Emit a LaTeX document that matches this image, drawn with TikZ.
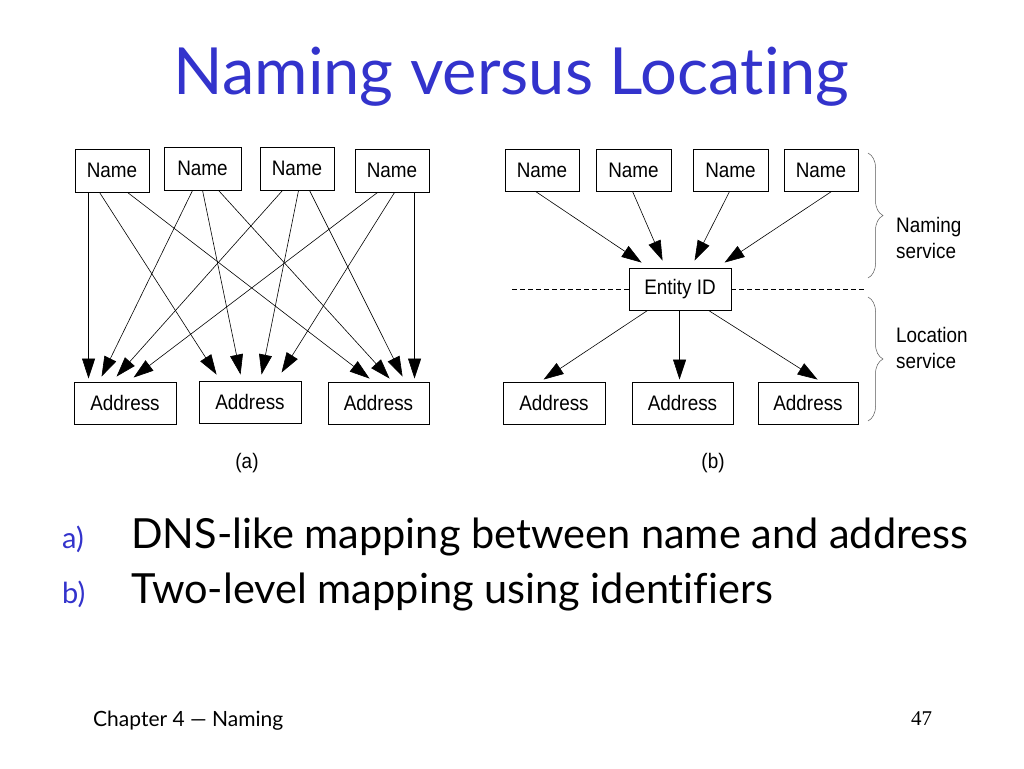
\documentclass[tikz,border=0pt]{standalone}
\usepackage{fontspec}
\usetikzlibrary{arrows.meta,decorations.pathreplacing}
\newfontfamily\comicf[RawFeature=-liga]{Lato}
\newfontfamily\arialf[FakeStretch=0.9]{Liberation Sans}
\newfontfamily\seriff{Liberation Serif}
\definecolor{titleblue}{RGB}{51,51,204}
\begin{document}
\begin{tikzpicture}[x=1pt,y=-1pt,
  box/.style={draw, line width=0.9pt, inner sep=0pt, font=\arialf\fontsize{21}{24}\selectfont},
  namebox/.style={box, minimum width=74pt, minimum height=43pt},
  addrbox/.style={box, minimum width=102pt, minimum height=42pt},
  arr/.style={-{Triangle[length=20pt,width=13pt]}, line width=0.6pt},
  lbl/.style={font=\arialf\fontsize{21}{25.6}\selectfont, inner sep=0pt},
  bullet/.style={anchor=base west, inner sep=0pt, font=\comicf\fontsize{41.5}{46}\selectfont},
  bmark/.style={anchor=base west, inner sep=0pt, text=titleblue, font=\comicf\fontsize{29}{32}\selectfont},
  bracestyle/.style={decorate, decoration={brace, amplitude=15pt}, line width=0.5pt, black!65}
]
\fill[white] (0,0) rectangle (1024,768);
\useasboundingbox (0,0) rectangle (1024,768);

% title
\node[anchor=base, inner sep=0pt, text=titleblue, font=\comicf\fontsize{65}{70}\selectfont] (title) at (511.5,94) {Naming versus Locating};

% ---------- (a) ----------
\node[namebox] (aN1) at (112,170.5) {Name};
\node[namebox, minimum width=77pt] (aN2) at (202.5,168.5) {Name};
\node[namebox] (aN3) at (297,168.5) {Name};
\node[namebox] (aN4) at (392,170.5) {Name};
\node[addrbox] (aA1) at (125,403) {Address};
\node[addrbox] (aA2) at (250,402) {Address};
\node[addrbox, minimum width=101pt] (aA3) at (378.5,403) {Address};

\draw[arr] ([xshift=14pt]aN1.south west) -- ([xshift=15pt,yshift=3pt]aA1.north west);
\draw[arr] ([xshift=25pt]aN1.south west) -- ([xshift=18pt,yshift=6pt]aA2.north west);
\draw[arr] ([xshift=53pt]aN1.south west) -- ([xshift=42pt,yshift=3pt]aA3.north west);

\draw[arr] ([xshift=29pt]aN2.south west) -- ([xshift=28pt,yshift=5pt]aA1.north west);
\draw[arr] ([xshift=39pt]aN2.south west) -- ([xshift=42pt,yshift=6pt]aA2.north west);
\draw[arr] ([xshift=55pt]aN2.south west) -- ([xshift=62pt,yshift=3pt]aA3.north west);

\draw[arr] ([xshift=23pt]aN3.south west) -- ([xshift=43pt,yshift=5pt]aA1.north west);
\draw[arr] ([xshift=39pt]aN3.south west) -- ([xshift=63pt,yshift=6pt]aA2.north west);
\draw[arr] ([xshift=50pt]aN3.south west) -- ([xshift=75pt,yshift=5pt]aA3.north west);

\draw[arr] ([xshift=23pt]aN4.south west) -- ([xshift=60pt,yshift=4pt]aA1.north west);
\draw[arr] ([xshift=40pt]aN4.south west) -- ([xshift=83pt,yshift=8pt]aA2.north west);
\draw[arr] ([xshift=60pt]aN4.south west) -- ([xshift=87pt,yshift=3pt]aA3.north west);

\node[lbl] (capa) at (247,463) {(a)};

% ---------- (b) ----------
\node[namebox, minimum height=42pt] (bN1) at (542,170) {Name};
\node[namebox, minimum height=42pt, minimum width=75pt] (bN2) at (633.5,170) {Name};
\node[namebox, minimum height=42pt, minimum width=75pt] (bN3) at (730.5,170) {Name};
\node[namebox, minimum height=42pt] (bN4) at (821,170) {Name};
\node[addrbox] (bE) at (680,289) {Entity ID};
\node[addrbox] (bA1) at (554,403) {Address};
\node[addrbox, minimum width=101pt] (bA2) at (682.5,403) {Address};
\node[addrbox, minimum width=100pt] (bA3) at (808,403) {Address};

\draw[arr] ([xshift=31pt]bN1.south west) -- ([xshift=13pt,yshift=5pt]bE.north west);
\draw[arr] ([xshift=37pt]bN2.south west) -- ([xshift=34pt,yshift=7pt]bE.north west);
\draw[arr] ([xshift=37pt]bN3.south west) -- ([xshift=66pt,yshift=7pt]bE.north west);
\draw[arr] ([xshift=48pt]bN4.south west) -- ([xshift=96pt,yshift=5pt]bE.north west);

\draw[arr] ([xshift=19pt]bE.south west) -- ([xshift=41pt,yshift=2pt]bA1.north west);
\draw[arr] ([xshift=51pt]bE.south west) -- ([xshift=48pt,yshift=2pt]bA2.north west);
\draw[arr] ([xshift=80pt]bE.south west) -- ([xshift=60pt,yshift=2pt]bA3.north west);

\coordinate (dl) at (512,289);
\coordinate (dr) at (865,289);
\draw[dash pattern=on 5pt off 3pt, line width=0.6pt] (dl) -- (bE.west);
\draw[dash pattern=on 5pt off 3pt, line width=0.6pt] (bE.east) -- (dr);

\coordinate (br1t) at (868,153);
\coordinate (br1b) at (868,278);
\coordinate (br2t) at (868,297);
\coordinate (br2b) at (868,421);
\draw[bracestyle] (br1t) -- (br1b);
\draw[bracestyle] (br2t) -- (br2b);
\node[lbl, anchor=north west, align=left] (naming) at (896,217) {Naming\\service};
\node[lbl, anchor=north west, align=left] (location) at (896,327) {Location\\service};

\node[lbl] (capb) at (713,463) {(b)};

% ---------- bullets ----------
\node[bmark] (ma) at (62,548) {a)};
\node[bullet] (ta) at (131,548) {DNS-like mapping between name and address};
\node[bmark] (mb) at (62,603) {b)};
\node[bullet] (tb) at (131,603) {Two-level mapping using identifiers};

% ---------- footer ----------
\node[anchor=base west, inner sep=0pt, font=\comicf\fontsize{21}{24}\selectfont] (foot) at (93,726) {Chapter 4 — Naming};
\node[anchor=base west, inner sep=0pt, font=\seriff\fontsize{21}{24}\selectfont] (page) at (911,725) {47};
\end{tikzpicture}
\end{document}
